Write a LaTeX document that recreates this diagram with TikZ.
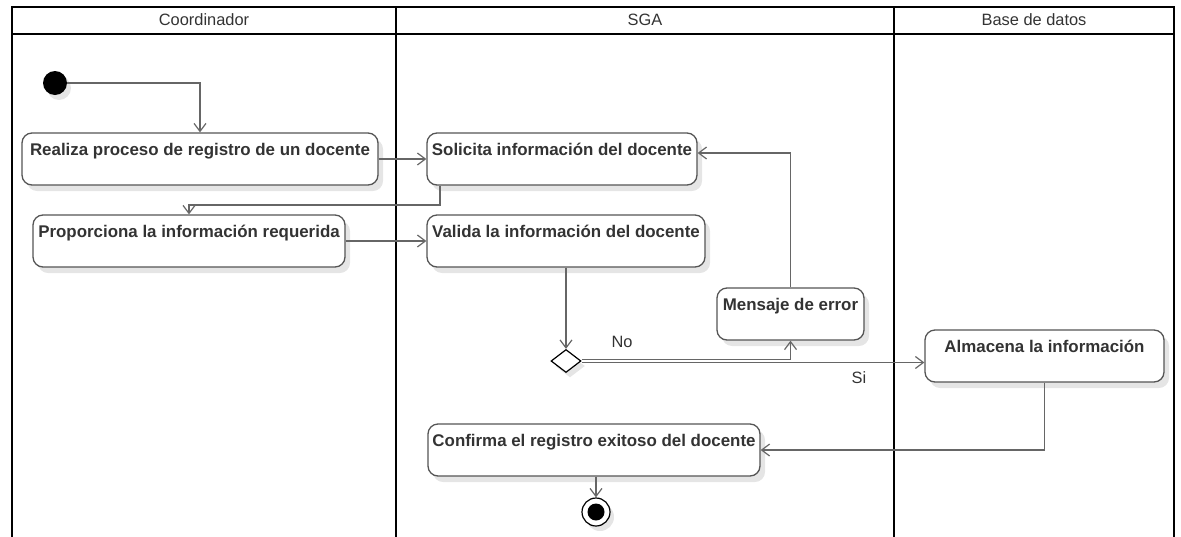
\documentclass[tikz,border=0pt]{standalone}
\usepackage{fontspec}
\setmainfont{Liberation Sans}
\usetikzlibrary{arrows.meta,shapes.geometric,shadows,calc}
\definecolor{boxline}{HTML}{555555}
\definecolor{conn}{HTML}{666666}
\definecolor{txt}{HTML}{333333}
\begin{document}
\begin{tikzpicture}[x=1pt,y=-1pt,
  lane/.style={line width=2.2pt,black},
  act/.style={draw=boxline,line width=1.3pt,fill=white,rounded corners=10pt,
    inner sep=0pt,text height=22pt,text depth=30pt,align=center,
    font=\fontsize{16.9}{19}\selectfont\bfseries,text=txt,
    drop shadow={shadow xshift=5pt,shadow yshift=-6pt,fill=black!10,opacity=1}},
  flow/.style={draw=conn,line width=1.3pt,-{Straight Barb[length=8pt,width=12pt,line width=1.2pt]}},
  lanetitle/.style={font=\fontsize{16.4}{19}\selectfont,text=txt,inner sep=0pt},
  guard/.style={font=\fontsize{16.4}{19}\selectfont,text=txt,inner sep=0pt}]
\useasboundingbox (0,0) rectangle (1181,536);
% swimlanes
\draw[lane] (12,537) -- (12,7) -- (1174,7) -- (1174,537);
\draw[lane] (12,34) -- (1174,34);
\draw[lane] (396,7) -- (396,537);
\draw[lane] (894,7) -- (894,537);
\node[lanetitle] (t1) at (204,20) {Coordinador};
\node[lanetitle] (t2) at (645,20) {SGA};
\node[lanetitle] (t3) at (1034,20) {Base de datos};
% nodes
\node[circle,fill=black,minimum size=24pt,inner sep=0pt,
  drop shadow={shadow xshift=4pt,shadow yshift=-5pt,fill=black!10,opacity=1}] (init) at (55,83) {};
\node[act,minimum width=356pt] (b1) at (200,159) {Realiza proceso de registro de un docente};
\node[act,minimum width=270pt] (b2) at (562,159) {Solicita información del docente};
\node[act,minimum width=312pt] (b3) at (189,241) {Proporciona la información requerida};
\node[act,minimum width=278pt] (b4) at (566,241) {Valida la información del docente};
\node[diamond,draw=black,line width=1.2pt,fill=white,minimum width=30pt,minimum height=23pt,inner sep=0pt,
  drop shadow={shadow xshift=4pt,shadow yshift=-5pt,fill=black!10,opacity=1}] (dec) at (566,361) {};
\node[act,minimum width=147pt] (err) at (790.5,314) {Mensaje de error};
\node[act,minimum width=239pt] (alm) at (1044.5,356) {Almacena la información};
\node[act,minimum width=332pt] (conf) at (594,450) {Confirma el registro exitoso del docente};
\node[circle,draw=black,line width=1.2pt,fill=white,minimum size=28pt,inner sep=0pt,
  drop shadow={shadow xshift=4pt,shadow yshift=-5pt,fill=black!10,opacity=1}] (fin) at (596,512) {};
\node[circle,fill=black,minimum size=17pt,inner sep=0pt] (fininner) at (fin.center) {};
% connectors
\draw[flow] (init.east) -| (b1.north);
\draw[flow] (b1.east) -- (b1.east -| b2.west);
\coordinate (c1) at (440,205);
\draw[flow] (b2.south -| c1) -- (c1) -| (b3.north);
\draw[flow] (b3.east) -- (b3.east -| b4.west);
\draw[flow] (b4.south) -- (dec.north);
\draw[flow] ([yshift=1.5pt]dec.east) -| (err.south);
\draw[flow] ([yshift=-1.5pt]dec.east) -- ([yshift=-1.5pt]dec.east -| alm.west);
\draw[flow] (err.north) |- ([yshift=6pt]b2.east);
\draw[flow] (alm.south) |- (conf.east);
\draw[flow] (conf.south -| fin.north) -- (fin.north);
% guards
\node[guard] (no) at (622,342) {No};
\node[guard] (si) at (859,378) {Si};
\end{tikzpicture}
\end{document}
